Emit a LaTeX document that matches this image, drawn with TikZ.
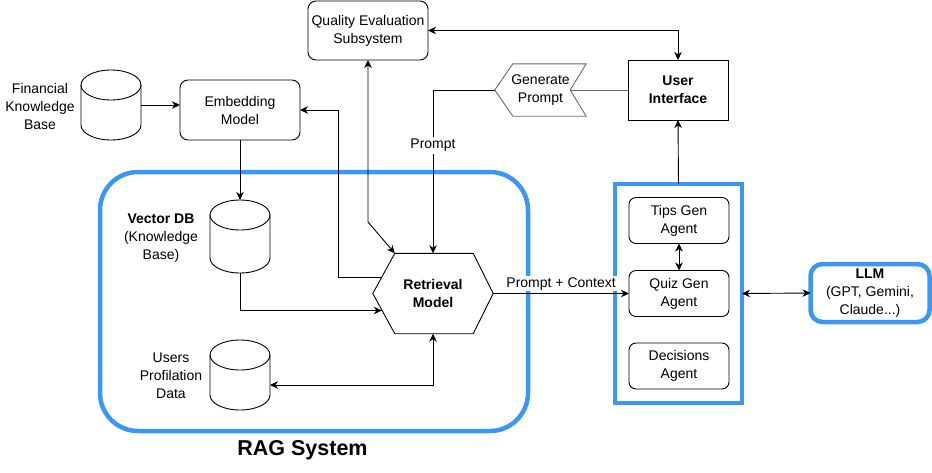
\documentclass[tikz,border=0pt]{standalone}
\usepackage{fontspec}
\setmainfont{Liberation Sans}
\usetikzlibrary{arrows.meta}
\definecolor{ragblue}{HTML}{3B97F5}
\definecolor{gpgray}{HTML}{6A6A6A}
\newcommand\drawcyl[1]{%
  \draw[line,fill=white] ([yshift=-15pt]#1.north west) -- ([yshift=15pt]#1.south west)
    arc[start angle=180,end angle=360,x radius=30pt,y radius=15pt]
    -- ([yshift=-15pt]#1.north east)
    arc[start angle=0,end angle=180,x radius=30pt,y radius=15pt] -- cycle;
  \draw[line] ([yshift=-15pt]#1.north west)
    arc[start angle=180,end angle=360,x radius=30pt,y radius=15pt];
}
\begin{document}
\begin{tikzpicture}[x=1pt,y=-1pt,
  font=\fontsize{14}{18}\selectfont,
  line/.style={line width=0.9pt,black},
  tip/.tip={Stealth[length=8pt,width=7.5pt,inset=2.5pt]},
  arr/.style={line,-tip},
  darr/.style={line,tip-tip},
  rbox/.style={draw,line width=0.9pt,rounded corners=8pt,minimum width=120pt,minimum height=60pt,align=center,inner sep=0pt,outer sep=0pt},
  agent/.style={rbox,minimum width=100pt,minimum height=46pt,rounded corners=7pt},
  cylnode/.style={inner sep=0pt,outer sep=0pt,minimum width=60pt,minimum height=70pt},
  lbl/.style={align=center,inner sep=0pt},
  bluebox/.style={draw=ragblue,line width=4.5pt,inner sep=0pt,outer sep=0pt}]
\useasboundingbox (0,0) rectangle (932,472);

% containers
\node[bluebox,rounded corners=38pt,minimum width=428pt,minimum height=259pt] (rag) at (314,301.5) {};
\node[font=\fontsize{21.5}{26}\selectfont\bfseries] (ragl) at (302.5,450) {RAG System};
\node[bluebox,minimum width=127pt,minimum height=219pt] (ag) at (678.5,293.5) {};
\node[bluebox,rounded corners=12pt,minimum width=119pt,minimum height=58pt,align=center] (llm) at (870,293) {\textbf{LLM}\\(GPT, Gemini,\\Claude...)};

% boxes
\node[rbox,minimum height=59pt] (qe) at (368,30.5) {Quality Evaluation\\Subsystem};
\node[draw,line width=0.9pt,minimum width=100pt,minimum height=60pt,align=center,inner sep=0pt,outer sep=0pt,font=\fontsize{14}{18}\selectfont\bfseries] (ui) at (678,90) {User\\Interface};
\node[rbox] (emb) at (240,110) {Embedding\\Model};
\node[lbl,minimum width=91pt,minimum height=52pt] (gp) at (540.5,90) {Generate\\Prompt};
\draw[line,gpgray] (gp.west) -- ([xshift=18pt]gp.north west) -- (gp.north east) -- ([xshift=-16pt]gp.east) -- (gp.south east) -- ([xshift=18pt]gp.south west) -- cycle;

\node[agent] (tips) at (679,220.5) {Tips Gen\\Agent};
\node[agent] (quiz) at (679,293.5) {Quiz Gen\\Agent};
\node[agent] (dec) at (679,366) {Decisions\\Agent};

% retrieval hexagon
\node[lbl,minimum width=120pt,minimum height=80pt,font=\fontsize{14}{18}\selectfont\bfseries] (ret) at (433,293.5) {Retrieval\\Model};
\draw[line] (ret.west) -- ([xshift=22pt]ret.north west) -- ([xshift=-20pt]ret.north east) -- (ret.east) -- ([xshift=-20pt]ret.south east) -- ([xshift=22pt]ret.south west) -- cycle;

% cylinders
\node[cylnode] (fkb) at (111,105) {};
\drawcyl{fkb}
\node[lbl] (fkbl) at (40,106) {Financial\\Knowledge\\Base};
\node[cylnode,minimum height=73pt] (vdb) at (240,236.5) {};
\drawcyl{vdb}
\node[lbl] (vdbl) at (161,238) {\textbf{Vector DB}\\(Knowledge\\Base)};
\node[cylnode] (upd) at (240,375) {};
\drawcyl{upd}
\node[lbl] (updl) at (171,376) {Users\\Profilation\\Data};

% connectors
\draw[darr] (qe.east) -| (ui.north);
\draw[line,gpgray] (ui.west) -- ([xshift=-16pt]gp.east);
\draw[arr] (gp.west) -| node[pos=0.67,fill=white,inner sep=2pt] (pl) {Prompt} (ret.north);
\draw[arr] ([xshift=8.8pt,yshift=16pt]ret.west) -| ([xshift=38pt]emb.east) -- (emb.east);
\draw[darr] (qe.south) -- ++(0,162) -- ([xshift=22pt]ret.north west);
\draw[arr] (fkb.east) -- (fkb.east -| emb.west);
\draw[arr] (emb.south) -- (vdb.north);
\draw[arr] (vdb.south) |- ([xshift=9pt,yshift=-17pt]ret.west);
\draw[darr] (ret.south) |- ([yshift=-10pt]upd.east);
\draw[arr] (ret.east) -- node[above=2pt,fill=white,inner sep=1pt] (pcl) {Prompt + Context} (quiz.west);
\draw[arr] (ag.north) -- (ui.south);
\draw[darr] (tips.south) -- (quiz.north);
\draw[darr] (ag.east) -- (llm.west);
\end{tikzpicture}
\end{document}
